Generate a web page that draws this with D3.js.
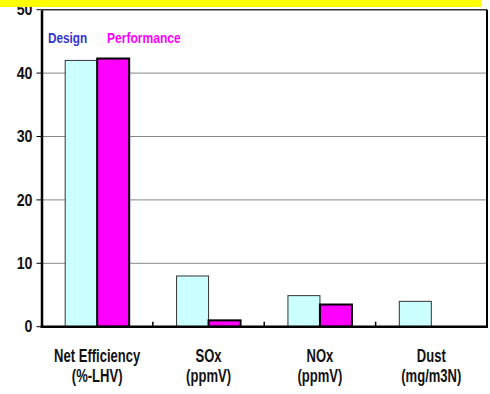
<!DOCTYPE html>
<html>
<head>
<meta charset="utf-8">
<script src="https://cdn.jsdelivr.net/npm/d3@7"></script>
<style>
  html, body { margin: 0; padding: 0; background: #fff; }
  svg { display: block; font-family: "Liberation Sans", Arial, sans-serif; font-weight: bold; }
</style>
</head>
<body>
<svg id="chart" width="490" height="394"></svg>
<script>
// Plant performance vs. design figures
const categories = ["Net Efficiency", "SOx", "NOx", "Dust"];
const units = ["(%-LHV)", "(ppmV)", "(ppmV)", "(mg/m3N)"];
const designValues = [42, 8, 4.9, 4];
const performanceValues = [42.3, 1, 3.5, 0];
const yTicks = [0, 10, 20, 30, 40, 50];
const seriesNames = ["Design", "Performance"];

const svg = d3.select("#chart");
const margin = { left: 41.5, right: 3, top: 9.7, bottom: 67.3 };
const W = 490, H = 394;

const x = d3.scaleBand().domain(categories).range([margin.left, W - margin.right]).paddingInner(0).paddingOuter(0);
const y = d3.scaleLinear().domain([0, 50]).range([H - margin.bottom, margin.top]);
const barW = 32;

// narrow text helper: positioned by translate, squeezed horizontally
function label(parent, tx, ty, str, size, sx, fill, anchor) {
  return parent.append("text")
    .attr("transform", `translate(${tx},${ty}) scale(${sx},1)`)
    .attr("text-anchor", anchor || "start")
    .attr("font-size", size).attr("fill", fill).text(str);
}

// gridlines
svg.append("g").selectAll("line").data(yTicks.filter(t => t > 0 && t < 50)).join("line")
  .attr("x1", margin.left).attr("x2", W - margin.right)
  .attr("y1", d => y(d)).attr("y2", d => y(d))
  .attr("stroke", "#888").attr("stroke-width", 1);

// frame top and right
svg.append("line").attr("x1", margin.left).attr("x2", W - margin.right)
  .attr("y1", y(50)).attr("y2", y(50)).attr("stroke", "#333").attr("stroke-width", 1.5);
svg.append("line").attr("x1", W - margin.right).attr("x2", W - margin.right)
  .attr("y1", y(50)).attr("y2", y(0)).attr("stroke", "#000").attr("stroke-width", 2);

// bars
const groups = svg.append("g").selectAll("g").data(categories).join("g");
groups.append("rect")
  .attr("x", (d) => x(d) + x.bandwidth() / 2 - barW)
  .attr("y", (d, i) => y(designValues[i]))
  .attr("width", barW)
  .attr("height", (d, i) => y(0) - y(designValues[i]))
  .attr("fill", "#CCFFFF").attr("stroke", "#333").attr("stroke-width", 1)
  .attr("display", (d, i) => designValues[i] > 0 ? null : "none");
groups.append("rect")
  .attr("x", (d) => x(d) + x.bandwidth() / 2)
  .attr("y", (d, i) => y(performanceValues[i]))
  .attr("width", barW)
  .attr("height", (d, i) => y(0) - y(performanceValues[i]))
  .attr("fill", "#FF00FF").attr("stroke", "#000").attr("stroke-width", 2)
  .attr("display", (d, i) => performanceValues[i] > 0 ? null : "none");

// y axis
const ySX = 0.86;
const yAxis = svg.append("g").attr("transform", `translate(${margin.left},0)`)
  .call(d3.axisLeft(y).tickValues(yTicks).tickSize(0).tickPadding(10.5));
yAxis.select(".domain").attr("stroke", "#000").attr("stroke-width", 2.5);
yAxis.selectAll(".tick text")
  .attr("font-size", 16.5).attr("font-weight", "bold").attr("fill", "#111")
  .attr("font-family", "Liberation Sans, Arial, sans-serif")
  .attr("transform", `scale(${ySX},1)`);
yAxis.selectAll(".tick line").remove();

// left tick marks pointing out
svg.append("g").selectAll("line").data(yTicks).join("line")
  .attr("x1", margin.left - 5).attr("x2", margin.left)
  .attr("y1", d => y(d)).attr("y2", d => y(d)).attr("stroke", "#000").attr("stroke-width", 1);

// x axis
const xBoundaries = categories.slice(1).map(c => x(c));
svg.append("g").selectAll("line").data(xBoundaries).join("line")
  .attr("x1", d => d).attr("x2", d => d)
  .attr("y1", y(0)).attr("y2", y(0) - 5).attr("stroke", "#000").attr("stroke-width", 1.5);
svg.append("line").attr("x1", margin.left - 1).attr("x2", W - margin.right + 1)
  .attr("y1", y(0)).attr("y2", y(0)).attr("stroke", "#000").attr("stroke-width", 2.5);

const xlab = svg.append("g");
categories.forEach((c, i) => {
  const cx = x(c) + x.bandwidth() / 2;
  label(xlab, cx, 362, c, 17.5, 0.745, "#111", "middle");
  label(xlab, cx, 382, units[i], 17.5, 0.745, "#111", "middle");
});

// legend
label(svg, 48, 43, seriesNames[0], 15.3, 0.77, "#3333CC");
label(svg, 107, 43, seriesNames[1], 15.3, 0.79, "#FF00FF");

// top banner
svg.append("rect").attr("x", 0).attr("y", 0).attr("width", 481).attr("height", 7).attr("fill", "#FFFF00");
</script>
</body>
</html>
